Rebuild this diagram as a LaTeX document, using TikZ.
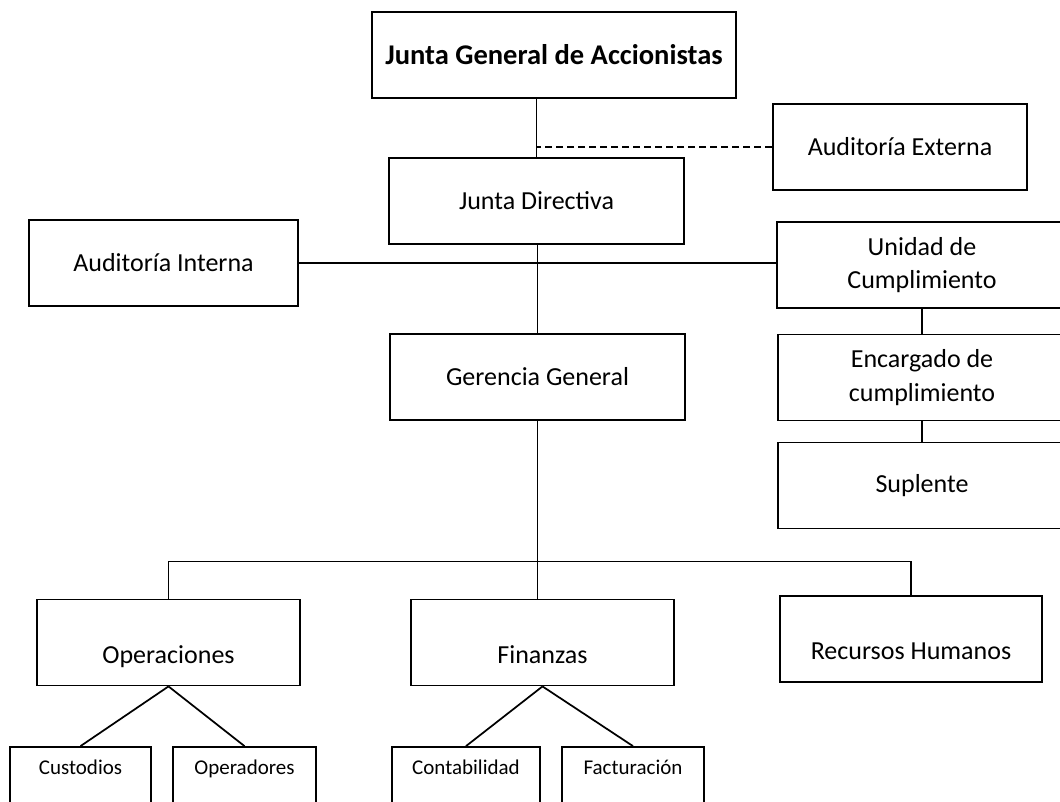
\documentclass[tikz,border=0pt]{standalone}
\usepackage{fontspec}
\setmainfont{Carlito}
\begin{document}
\begin{tikzpicture}[x=0.75pt,y=-0.75pt,
  box/.style={draw=black,line width=1.35pt,fill=white,inner sep=0pt,align=center,
    minimum height=64.5pt,font=\fontsize{19.5}{25}\selectfont},
  lowbox/.style={box,text height=33pt,text depth=2pt},
  smallbox/.style={draw=black,line width=1.35pt,fill=white,inner sep=0pt,
    minimum height=64.5pt,text height=20.25pt,text depth=44.25pt,
    font=\fontsize{15.75}{19}\selectfont},
  conn/.style={draw=black,line width=1.3pt},
  dashconn/.style={draw=black,line width=1.3pt,dash pattern=on 5.25pt off 3pt}]
\useasboundingbox (0,0) rectangle (1060,801);
\fill[white] (0,0) rectangle (1060,801);
\clip (0,0) rectangle (1060,801);

% top levels
\node[box,minimum width=273pt,font=\fontsize{21.4}{26}\selectfont\bfseries] (jga) at (554,55) {Junta General de Accionistas};
\node[box,minimum width=190.5pt] (ext) at (900,147) {Auditoría Externa};
\node[box,minimum width=221.25pt] (jd) at (536.5,201) {Junta Directiva};
\node[box,minimum width=201.75pt] (ai) at (163.5,263) {Auditoría Interna};
\node[box,minimum width=217.5pt] (uc) at (922,265) {Unidad de\\Cumplimiento};
\node[box,minimum width=216pt] (enc) at (922,377.5) {Encargado de\\cumplimiento};
\node[box,minimum width=216pt] (sup) at (922,485.5) {Suplente};
\node[box,minimum width=221.25pt] (gg) at (537.5,377) {Gerencia General};

% departments
\node[lowbox,minimum width=197.25pt] (op) at (168.5,642.5) {Operaciones};
\node[lowbox,minimum width=197.25pt] (fin) at (542.5,642.5) {Finanzas};
\node[lowbox,minimum width=196.5pt] (rh) at (911,639) {Recursos Humanos};

% sub units
\node[smallbox,minimum width=105.75pt] (cus) at (80.5,790) {Custodios};
\node[smallbox,minimum width=107.25pt] (opd) at (244.5,790) {Operadores};
\node[smallbox,minimum width=111pt] (con) at (466,790) {Contabilidad};
\node[smallbox,minimum width=106.5pt] (fac) at (633,790) {Facturación};

% connectors
\draw[conn] (jd.north) -- (jd.north |- jga.south);
\draw[dashconn] (ext.west) -- (ext.west -| jd.north);
\draw[conn] (ai.east) -- (ai.east -| uc.west);
\draw[conn] (gg.north) -- (gg.north |- jd.south);
\draw[conn] (uc.south) -- (enc.north);
\draw[conn] (enc.south) -- (sup.north);
\draw[conn] (gg.south) -- (gg.south |- fin.north);
\draw[conn] (op.north) -- ++(0,-37) -| (rh.north);
\draw[conn] (op.south) -- (cus.north);
\draw[conn] (op.south) -- (opd.north);
\draw[conn] (fin.south) -- (con.north);
\draw[conn] (fin.south) -- (fac.north);
\end{tikzpicture}
\end{document}
